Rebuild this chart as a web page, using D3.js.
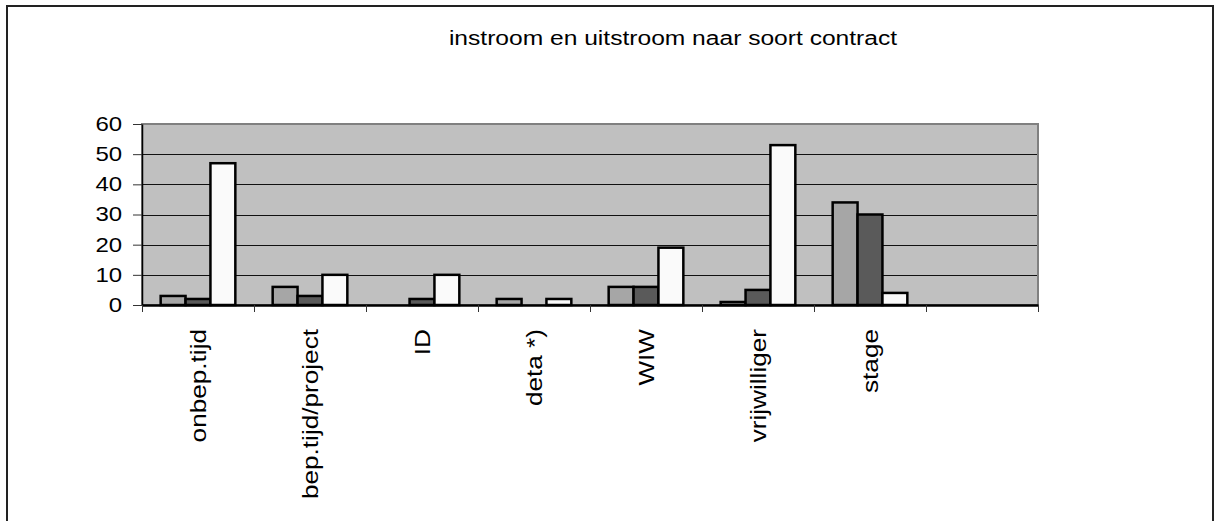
<!DOCTYPE html>
<html>
<head>
<meta charset="utf-8">
<script src="https://cdn.jsdelivr.net/npm/d3@7"></script>
<style>
  body { margin: 0; background: #fff; }
  text { font-family: "Liberation Sans", Arial, sans-serif; fill: #000; }
</style>
</head>
<body>
<script>
var categories = ["onbep.tijd", "bep.tijd/project", "ID", "deta *)", "WIW", "vrijwilliger", "stage", ""];
var serie1 = [3, 6, 0, 2, 6, 1, 34, null];
var serie2 = [2, 3, 2, 0, 6, 5, 30, null];
var serie3 = [47, 10, 10, 2, 19, 53, 4, null];
var seriesNames = ["serie1", "serie2", "serie3"];
var seriesColors = ["#a6a6a6", "#5a5a5a", "#fafafa"];
var yTicks = [0, 10, 20, 30, 40, 50, 60];
var title = "instroom en uitstroom naar soort contract";

var width = 1214, height = 521;
var plot = {left: 142, top: 124, right: 1038, bottom: 305};

var svg = d3.select("body").append("svg")
    .attr("width", width)
    .attr("height", height);

// outer frame
svg.append("rect")
    .attr("x", 7).attr("y", 6)
    .attr("width", 1206).attr("height", 530)
    .attr("fill", "#fff")
    .attr("stroke", "#222")
    .attr("stroke-width", 2);

svg.append("text")
    .attr("transform", "translate(673,45) scale(1.23,1)")
    .attr("text-anchor", "middle")
    .attr("font-size", "20px")
    .text(title);

var x = d3.scaleBand()
    .domain(categories.map(function(d, i) { return i; }))
    .range([plot.left, plot.right])
    .paddingInner(0).paddingOuter(0);

var xs = d3.scaleBand()
    .domain(seriesNames)
    .range([0, x.bandwidth()])
    .paddingInner(0).paddingOuter(0.75);

var y = d3.scaleLinear()
    .domain([0, 60])
    .range([plot.bottom, plot.top]);

// plot area
svg.append("rect")
    .attr("x", plot.left).attr("y", plot.top)
    .attr("width", plot.right - plot.left)
    .attr("height", plot.bottom - plot.top)
    .attr("fill", "#c0c0c0")
    .attr("stroke", "#808080")
    .attr("stroke-width", 2);

// gridlines
svg.append("g")
    .selectAll("line")
    .data(yTicks.filter(function(d) { return d > 0 && d < 60; }))
    .enter()
    .append("line")
    .attr("x1", plot.left).attr("x2", plot.right - 1)
    .attr("y1", function(d) { return Math.round(y(d)) + 0.5; })
    .attr("y2", function(d) { return Math.round(y(d)) + 0.5; })
    .attr("stroke", "#111")
    .attr("stroke-width", 1);

// bars
var allSeries = [serie1, serie2, serie3];
var bars = [];
allSeries.forEach(function(s, si) {
    s.forEach(function(v, ci) {
        if (v) bars.push({cat: ci, serie: seriesNames[si], color: seriesColors[si], value: v});
    });
});

svg.append("g")
    .selectAll("rect")
    .data(bars)
    .enter()
    .append("rect")
    .attr("x", function(d) { return x(d.cat) + xs(d.serie); })
    .attr("y", function(d) { return y(d.value); })
    .attr("width", xs.bandwidth())
    .attr("height", function(d) { return y(0) - y(d.value); })
    .attr("fill", function(d) { return d.color; })
    .attr("stroke", "#000")
    .attr("stroke-width", 2.5);

// y axis
var yAxis = d3.axisLeft(y).tickValues(yTicks).tickSize(9).tickSizeOuter(0);
var yAxisGroup = svg.append("g")
    .attr("transform", "translate(" + plot.left + ",0)")
    .call(yAxis);
yAxisGroup.select(".domain").attr("stroke", "#000").attr("stroke-width", 1.5);
yAxisGroup.selectAll(".tick line").attr("stroke", "#333");
yAxisGroup.selectAll(".tick text")
    .attr("x", -16.5)
    .attr("transform", "scale(1.2,1)")
    .attr("font-size", "20px")
    .attr("font-family", "Liberation Sans, Arial, sans-serif");

// x axis with ticks on category boundaries
var xEdge = d3.scaleLinear().domain([0, categories.length]).range([plot.left, plot.right]);
var xAxis = d3.axisBottom(xEdge)
    .tickValues(d3.range(categories.length + 1))
    .tickFormat("")
    .tickSize(7).tickSizeOuter(0);
var xAxisGroup = svg.append("g")
    .attr("transform", "translate(0," + plot.bottom + ")")
    .call(xAxis);
xAxisGroup.select(".domain").attr("stroke", "#000").attr("stroke-width", 2.5);
xAxisGroup.selectAll(".tick line").attr("stroke", "#333");

// category labels
svg.append("g")
    .selectAll("text")
    .data(categories)
    .enter()
    .append("text")
    .attr("transform", function(d, i) {
        return "translate(" + (x(i) + x.bandwidth() / 2) + ",329) rotate(-90) scale(1.2,1)";
    })
    .attr("text-anchor", "end")
    .attr("dy", "0.35em")
    .attr("font-size", "21.8px")
    .text(function(d) { return d; });
</script>
</body>
</html>
